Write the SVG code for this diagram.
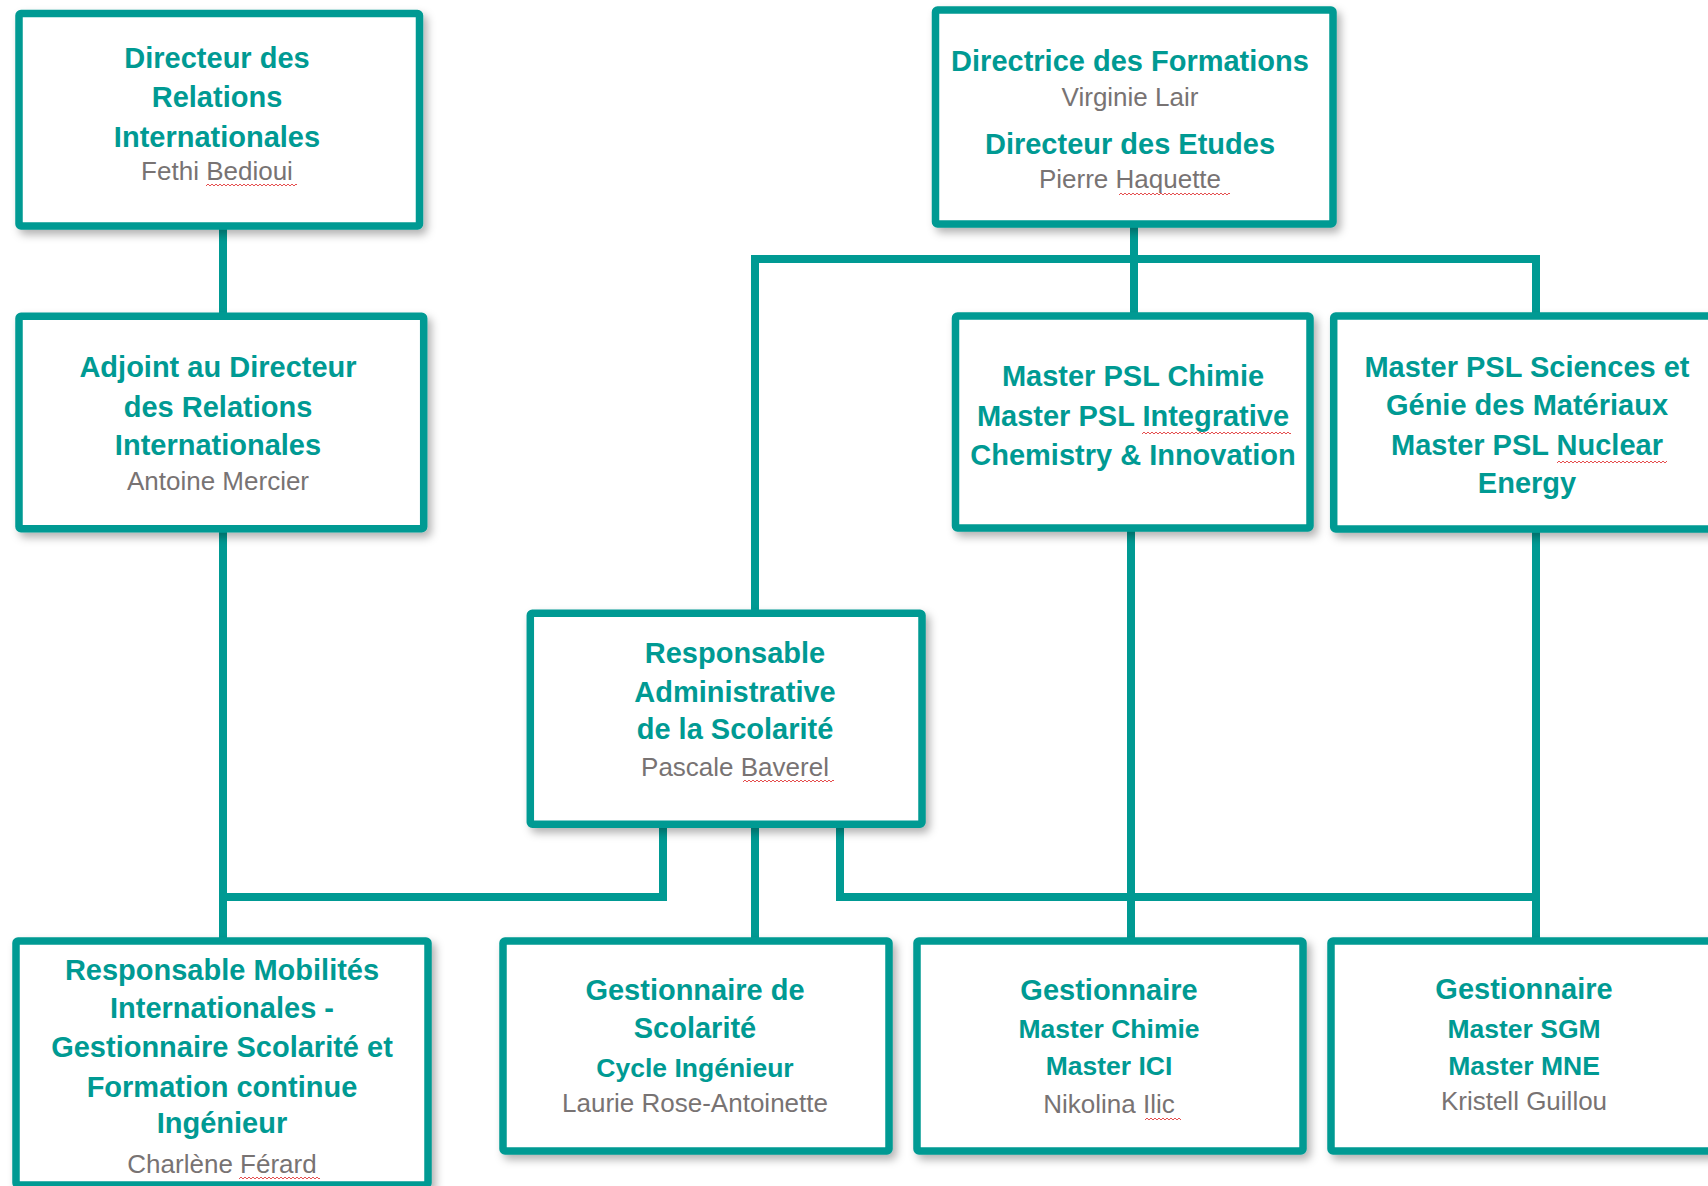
<svg xmlns="http://www.w3.org/2000/svg" width="1708" height="1186" viewBox="0 0 1708 1186">
<style>
.box{fill:#ffffff;stroke:#009A93;stroke-width:7.5;filter:url(#sh)}
.conn{fill:none;stroke:#009A93;stroke-width:8;stroke-linejoin:miter;stroke-linecap:butt}
.t{font-family:"Liberation Sans",Arial,sans-serif;font-weight:bold;font-size:29px;fill:#009A93;text-anchor:middle}
.s{font-family:"Liberation Sans",Arial,sans-serif;font-weight:bold;font-size:26.5px;fill:#009A93;text-anchor:middle}
.n{font-family:"Liberation Sans",Arial,sans-serif;font-size:26px;fill:#787373;text-anchor:middle}
.w{fill:url(#wave)}
</style>
<defs>
<filter id="sh" x="-10%" y="-10%" width="125%" height="130%">
<feDropShadow dx="4" dy="5" stdDeviation="4" flood-color="#000000" flood-opacity="0.3"/>
</filter>
<pattern id="wave" patternUnits="userSpaceOnUse" width="4" height="4">
<path d="M-1,2 L0,3 L2,1 L4,3 L5,2" fill="none" stroke="#e23b3b" stroke-width="0.9"/>
</pattern>
</defs>
<rect width="1708" height="1186" fill="#ffffff"/>

<g id="connectors">
<path class="conn" d="M223,226 V316"/>
<path class="conn" d="M223,529 V941"/>
<path class="conn" d="M1134,224 V316"/>
<path class="conn" d="M755,613 V259 H1536 V316"/>
<path class="conn" d="M663,824 V897 H223"/>
<path class="conn" d="M755,824 V941"/>
<path class="conn" d="M840,824 V897 H1536"/>
<path class="conn" d="M1131,528 V941"/>
<path class="conn" d="M1536,529 V941"/>
</g>

<g id="dir-ri">
<rect class="box" x="19" y="13.5" width="400.5" height="212.5" rx="2"/>
<text class="t" x="217" y="68">Directeur des</text>
<text class="t" x="217" y="107">Relations</text>
<text class="t" x="217" y="147">Internationales</text>
<text class="n" x="217" y="180">Fethi Bedioui</text>
<g transform="translate(206,183)"><rect class="w" width="91" height="4"/></g>
</g>

<g id="adj-ri">
<rect class="box" x="19" y="316.3" width="404.7" height="212.5" rx="2"/>
<text class="t" x="218" y="377">Adjoint au Directeur</text>
<text class="t" x="218" y="417">des Relations</text>
<text class="t" x="218" y="455">Internationales</text>
<text class="n" x="218" y="490">Antoine Mercier</text>
</g>

<g id="dir-formations">
<rect class="box" x="935.5" y="10" width="397.5" height="214" rx="2"/>
<text class="t" x="1130" y="71">Directrice des Formations</text>
<text class="n" x="1130" y="106">Virginie Lair</text>
<text class="t" x="1130" y="154">Directeur des Etudes</text>
<text class="n" x="1130" y="188">Pierre Haquette</text>
<g transform="translate(1119,192)"><rect class="w" width="111" height="4"/></g>
</g>

<g id="master-chimie">
<rect class="box" x="955.5" y="316" width="354.5" height="212" rx="2"/>
<text class="t" x="1133" y="386">Master PSL Chimie</text>
<text class="t" x="1133" y="426">Master PSL Integrative</text>
<text class="t" x="1133" y="465">Chemistry &amp; Innovation</text>
<g transform="translate(1142,431)"><rect class="w" width="149" height="4"/></g>
</g>

<g id="master-sgm">
<rect class="box" x="1333.7" y="316" width="400" height="213" rx="2"/>
<text class="t" x="1527" y="377">Master PSL Sciences et</text>
<text class="t" x="1527" y="415">Génie des Matériaux</text>
<text class="t" x="1527" y="455">Master PSL Nuclear</text>
<text class="t" x="1527" y="493">Energy</text>
<g transform="translate(1557,460)"><rect class="w" width="110" height="4"/></g>
</g>

<g id="resp-admin">
<rect class="box" x="530.3" y="613.3" width="391.7" height="211" rx="2"/>
<text class="t" x="735" y="663">Responsable</text>
<text class="t" x="735" y="702">Administrative</text>
<text class="t" x="735" y="739">de la Scolarité</text>
<text class="n" x="735" y="776">Pascale Baverel</text>
<g transform="translate(743,779)"><rect class="w" width="91" height="4"/></g>
</g>

<g id="resp-mobilites">
<rect class="box" x="16" y="941" width="412" height="244" rx="2"/>
<text class="t" x="222" y="980">Responsable Mobilités</text>
<text class="t" x="222" y="1018">Internationales -</text>
<text class="t" x="222" y="1057">Gestionnaire Scolarité et</text>
<text class="t" x="222" y="1097">Formation continue</text>
<text class="t" x="222" y="1133">Ingénieur</text>
<text class="n" x="222" y="1173">Charlène Férard</text>
<g transform="translate(239,1176)"><rect class="w" width="81" height="4"/></g>
</g>

<g id="gest-cycle">
<rect class="box" x="503" y="941" width="386" height="210" rx="2"/>
<text class="t" x="695" y="1000">Gestionnaire de</text>
<text class="t" x="695" y="1038">Scolarité</text>
<text class="s" x="695" y="1077">Cycle Ingénieur</text>
<text class="n" x="695" y="1112">Laurie Rose-Antoinette</text>
</g>

<g id="gest-chimie">
<rect class="box" x="917" y="941" width="386" height="210" rx="2"/>
<text class="t" x="1109" y="1000">Gestionnaire</text>
<text class="s" x="1109" y="1038">Master Chimie</text>
<text class="s" x="1109" y="1075">Master ICI</text>
<text class="n" x="1109" y="1113">Nikolina Ilic</text>
<g transform="translate(1145,1117)"><rect class="w" width="36" height="4"/></g>
</g>

<g id="gest-sgm">
<rect class="box" x="1331" y="941" width="400" height="210" rx="2"/>
<text class="t" x="1524" y="999">Gestionnaire</text>
<text class="s" x="1524" y="1038">Master SGM</text>
<text class="s" x="1524" y="1075">Master MNE</text>
<text class="n" x="1524" y="1110">Kristell Guillou</text>
</g>
</svg>
